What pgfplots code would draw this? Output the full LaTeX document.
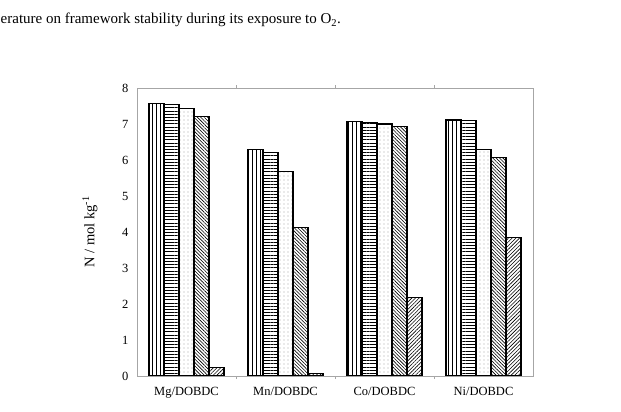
\documentclass[border=0pt]{standalone}
\usepackage{pgfplots}
\pgfplotsset{compat=1.18}
\usepackage{fontspec}
\setmainfont{Liberation Serif}
\usetikzlibrary{patterns.meta}
\begin{document}
\begin{tikzpicture}
\path[use as bounding box] (0,0) rectangle (621bp,412bp);
\node[anchor=base west, inner sep=0pt, font=\fontsize{15bp}{17bp}\selectfont] at (0.5bp,388bp) {erature on framework stability during its exposure to O\textsubscript{2}.};
\begin{axis}[
  at={(137bp,36bp)}, anchor=south west,
  width=396bp, height=288bp, scale only axis,
  ymin=0, ymax=8, ytick={0,1,...,8},
  xmin=-0.5, xmax=3.5,
  xtick={0,1,2,3},
  xticklabels={Mg/DOBDC, Mn/DOBDC, Co/DOBDC, Ni/DOBDC},
  minor xtick={0.5,1.5,2.5},
  major x tick style={draw=none},
  minor tick length=3bp,
  tick align=inside,
  ytick style={draw=none},
  axis line style={draw=gray!70, line width=0.8bp},
  every minor tick/.style={gray!70, line width=0.8bp},
  ticklabel style={font=\fontsize{12.5bp}{14bp}\selectfont},
  yticklabel style={xshift=-5bp},
  xticklabel style={yshift=-3bp},
  /pgf/number format/assume math mode=true,
  ylabel={N / mol kg\textsuperscript{-1}},
  ylabel style={font=\fontsize{14.5bp}{16bp}\selectfont, at={(axis description cs:0,0.5)}, anchor=center, yshift=47bp},
  ybar=0pt, bar width=0.1515,
  every axis plot/.append style={draw=black, line width=1.1bp, fill=white},
]
\addplot[pattern={Lines[angle=90,distance=4bp,line width=0.9bp]}] coordinates {(0,7.56) (1,6.28) (2,7.06) (3,7.11)};
\addplot[pattern={Lines[angle=0,distance=3.2bp,line width=1bp]}] coordinates {(0,7.54) (1,6.20) (2,7.05) (3,7.10)};
\addplot[pattern={Dots[distance=4bp,radius=0.4bp]}] coordinates {(0,7.42) (1,5.69) (2,7.00) (3,6.30)};
\addplot[pattern={Lines[angle=-45,distance=2.4bp,line width=0.6bp]}] coordinates {(0,7.22) (1,4.13) (2,6.93) (3,6.07)};
\addplot[pattern={Lines[angle=45,distance=2.6bp,line width=0.6bp]}] coordinates {(0,0.24) (1,0.07) (2,2.17) (3,3.85)};
\end{axis}
\end{tikzpicture}
\end{document}
